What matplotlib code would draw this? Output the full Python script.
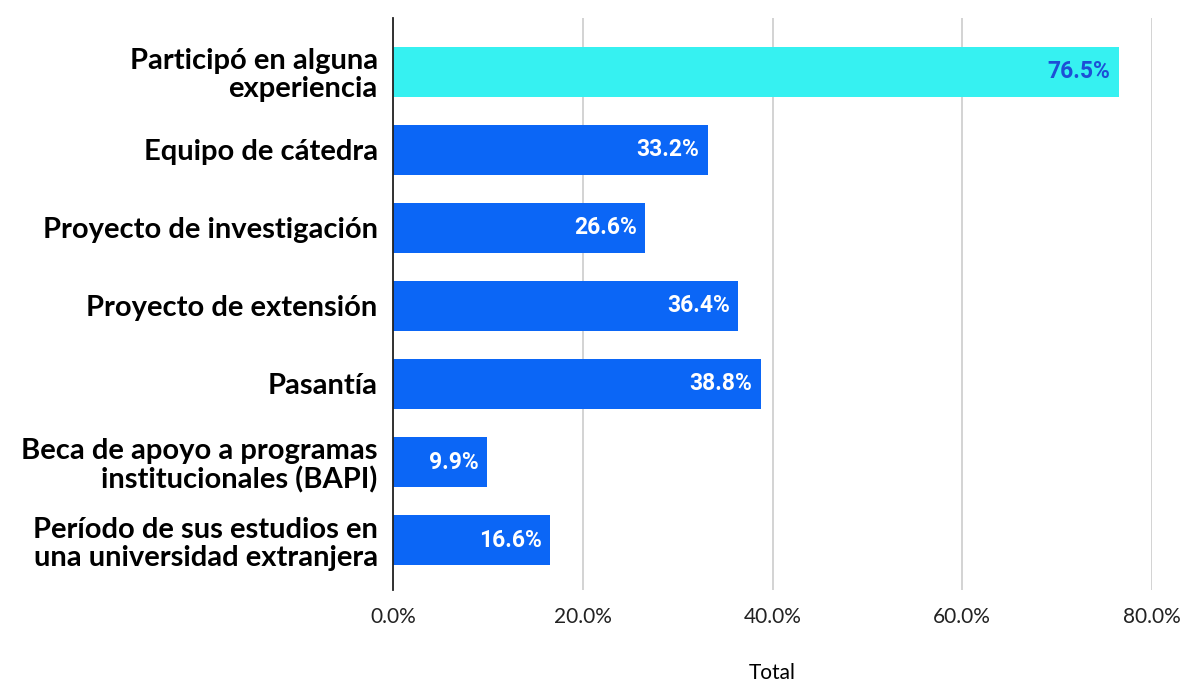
import matplotlib.pyplot as plt

# Datos
categorias = [
    "Participó en alguna\nexperiencia",
    "Equipo de cátedra",
    "Proyecto de investigación",
    "Proyecto de extensión",
    "Pasantía",
    "Beca de apoyo a programas\ninstitucionales (BAPI)",
    "Período de sus estudios en\nuna universidad extranjera",
]
valores = [76.5, 33.2, 26.6, 36.4, 38.8, 9.9, 16.6]
ticks_x = [0, 20, 40, 60, 80]

colores = ["#36F1F1"] + ["#0B66F6"] * (len(valores) - 1)
color_texto = ["#1D4FD6"] + ["white"] * (len(valores) - 1)

fig = plt.figure(figsize=(11.85, 6.83), dpi=100)
ax = fig.add_axes([393 / 1185, 1 - 590 / 683, (1152 - 393) / 1185, (590 - 18) / 683])

y = list(range(len(valores)))
ax.barh(y, valores, height=0.64, color=colores, zorder=3)

for i, v in enumerate(valores):
    ax.text(v - 0.9, i, f"{v:.1f}%", ha="right", va="center",
            color=color_texto[i], fontsize=16.5, fontweight="bold",
            family="Roboto", zorder=4)

ax.set_xlim(0, 80)
ax.set_ylim(6.64, -0.69)
ax.set_xticks(ticks_x)
ax.set_xticklabels([f"{t:.1f}%" for t in ticks_x], family="Lato", fontsize=15, color="#222222")
ax.set_yticks(y)
ax.set_yticklabels(categorias, family="Lato", fontweight="bold", fontsize=21,
                   linespacing=1.1)
ax.tick_params(axis="y", length=0, pad=11)
ax.tick_params(axis="x", length=0, pad=12)

ax.grid(axis="x", color="#cccccc", linewidth=1.2, zorder=0)
for s in ["top", "right", "bottom"]:
    ax.spines[s].set_visible(False)
ax.spines["left"].set_color("#222222")
ax.spines["left"].set_linewidth(1.3)
ax.spines["left"].set_zorder(5)

ax.set_xlabel("Total", family="Lato", fontsize=15, labelpad=26)

fig.savefig("out.png", dpi=100)
